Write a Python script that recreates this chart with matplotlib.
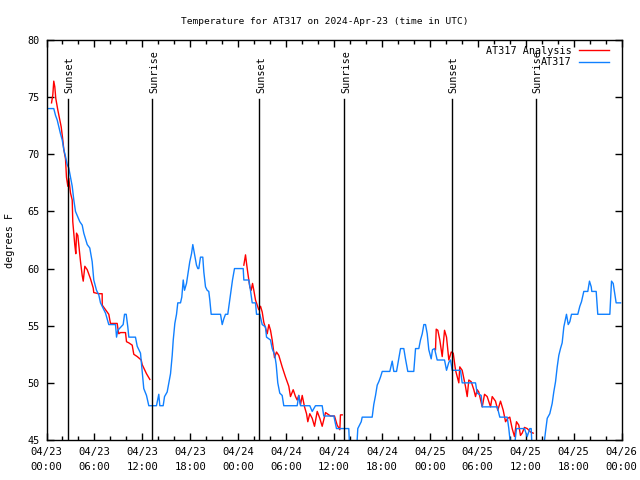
import numpy as np
import matplotlib
matplotlib.use("Agg")
import matplotlib.pyplot as plt

plt.rcParams['font.family'] = ['DejaVu Sans Mono']

# hours since 2024-04-23 00:00 UTC
obs_hours = [0, 0.91, 1.13, 1.34, 1.54, 1.75, 1.97, 2.17, 2.38, 2.59, 2.79, 3.01, 3.22, 3.42, 3.63,
             4.17, 4.47, 4.67, 5.10, 5.42, 5.72, 5.92, 6.26, 6.55, 6.76, 7.18, 7.39, 7.80, 8.64, 8.77,
             8.93, 9.60, 9.77, 9.98, 10.18, 10.31, 11.14, 11.36, 11.77, 11.98, 12.18, 12.52, 12.81,
             13.77, 14.06, 14.19, 14.61, 14.78, 15.11, 15.53, 15.74, 15.87, 16.07, 16.28, 16.44, 16.78,
             16.94, 17.12, 17.28, 17.53, 17.74, 17.94, 18.16, 18.32, 18.53, 18.78, 18.95, 19.07, 19.28,
             19.57, 19.70, 19.91, 20.12, 20.32, 20.45, 20.62, 21.79, 22.00, 22.20, 22.41, 22.70, 22.95,
             23.13, 23.29, 23.54, 24.63, 24.71, 25.33, 25.54, 25.76, 26.17, 26.30, 26.71, 27.01, 27.42,
             27.55, 28.05, 28.26, 28.59, 28.76, 28.96, 29.21, 29.51, 29.71, 31.39, 31.59, 31.81, 32.97,
             33.27, 33.68, 34.52, 34.72, 35.98, 36.31, 37.85, 37.98, 38.82, 38.98, 39.41, 39.53, 40.78,
             40.98, 41.20, 41.41, 41.61, 41.82, 42.04, 42.99, 43.29, 43.49, 43.83, 44.11, 44.33, 44.74,
             44.95, 45.24, 45.99, 46.21, 46.62, 46.83, 47.05, 47.25, 47.46, 47.67, 47.87, 48.17, 48.33,
             48.59, 48.92, 49.84, 50.09, 50.38, 50.59, 50.80, 51.84, 52.05, 53.72, 53.93, 54.43, 54.56,
             56.44, 56.76, 57.69, 57.89, 58.19, 58.52, 58.85, 59.85, 60.19, 60.52, 60.69, 60.82, 62.19,
             62.48, 62.70, 63.02, 63.32, 63.52, 63.74, 63.95, 64.15, 64.36, 64.57, 64.78, 64.99, 65.11,
             65.33, 65.53, 65.74, 66.53, 66.78, 66.99, 67.28, 67.78, 67.99, 68.21, 68.28, 68.83, 69.03,
             70.54, 70.75, 70.96, 71.16, 71.33, 71.88]
obs_temps = [74.0, 74.0, 73.4, 73.0, 72.4, 71.8, 71.25, 70.4, 69.8, 69.1, 68.8, 68.0, 67.2, 66.0, 65.0,
             64.1, 63.8, 63.1, 62.1, 61.8, 60.6, 59.0, 58.1, 57.7, 57.0, 56.4, 56.1, 55.1, 55.1, 54.0,
             54.6, 55.1, 56.0, 56.0, 54.9, 54.0, 54.0, 53.2, 52.6, 51.0, 49.5, 48.9, 48.0,
             48.0, 49.0, 48.0, 48.0, 48.8, 49.2, 50.8, 52.4, 53.75, 55.2, 56.0, 57.0, 57.0,
             57.5, 59.0, 58.1, 58.7, 59.7, 60.6, 61.3, 62.1, 61.3, 60.3, 60.0, 60.0, 61.0,
             61.0, 59.7, 58.4, 58.1, 58.0, 57.25, 56.0, 56.0, 55.1, 55.6, 56.0, 56.0, 57.25,
             58.1, 59.0, 60.0, 60.0, 59.0, 59.0, 58.1, 57.0, 57.0, 56.0, 56.0, 55.1, 54.9,
             54.0, 53.75, 53.0, 52.4, 51.6, 50.0, 49.1, 48.9, 48.0, 48.0, 48.9, 48.0, 48.0,
             47.5, 48.0, 48.0, 47.1, 47.1, 46.0, 46.0, 44.0, 44.0, 46.0, 46.6, 47.0, 47.0,
             48.1, 48.9, 49.8, 50.1, 50.5, 51.0, 51.0, 51.9, 51.0, 51.0, 52.1, 53.0, 53.0,
             52.1, 51.0, 51.0, 53.0, 53.0, 53.75, 54.3, 55.1, 55.1, 54.3, 52.9, 52.1, 52.9,
             53.0, 52.0, 52.0, 51.1, 51.8, 52.0, 51.1, 51.1, 50.0, 50.0, 49.1, 48.9, 47.9,
             47.9, 47.0, 47.0, 46.0, 44.0, 44.0, 46.0, 46.0, 45.3, 46.0, 46.0, 44.0, 44.0,
             45.7, 46.9, 47.3, 48.2, 49.2, 50.1, 51.4, 52.4, 53.0, 53.5, 54.9, 55.6, 56.0,
             55.1, 55.35, 56.0, 56.0, 56.7, 57.1, 58.0, 58.0, 58.9, 58.4, 58.0, 58.0, 56.0,
             56.0, 58.9, 58.7, 57.8, 57.0, 57.0]

# analysis, nan marks the gaps between nights
ana_hours = [0.63, 0.79, 0.91, 1.04, 1.16, 1.41, 1.67, 1.84, 2.00, 2.17, 2.38, 2.50, 2.67, 2.79, 3.01,
             3.22, 3.29, 3.42, 3.54, 3.67, 3.76, 3.92, 4.04, 4.26, 4.47, 4.60, 4.80, 5.10, 5.51, 5.85,
             5.92, 6.55, 6.97, 6.98, 7.39, 7.80, 8.01, 8.85, 8.93, 9.05, 9.27, 9.89, 10.02, 10.31, 10.73,
             10.93, 11.36, 11.86, 11.98, 12.52, 12.94,
             np.nan,
             24.71, 24.92, 25.04, 25.21, 25.46, 25.63, 25.80, 25.96, 26.17, 26.58, 26.80, 27.01, 27.21,
             27.64, 27.84, 28.05, 28.26, 28.55, 28.80, 29.09, 29.51, 29.93, 30.34, 30.55, 30.89, 31.18,
             31.39, 31.59, 31.81, 32.02, 32.31, 32.56, 32.72, 32.97, 33.27, 33.56, 33.90, 34.22, 34.52,
             34.94, 35.56, 36.06, 36.40, 36.73, 36.81, 37.03,
             np.nan,
             48.71, 48.80, 49.00, 49.25, 49.55, 49.84, 50.09, 50.38, 50.68, 50.93, 51.22, 51.63, 51.75,
             52.05, 52.46, 52.68, 52.88, 53.18, 53.51, 53.72, 53.93, 54.13, 54.56, 54.85, 55.18, 55.60,
             55.81, 56.22, 56.51, 56.85, 57.19, 57.48, 57.76, 58.01, 58.31, 58.60, 58.85, 59.14, 59.35,
             59.56, 59.85, 60.19, 60.61, 60.94]
ana_temps = [74.5, 75.2, 76.4, 75.9, 74.9, 73.9, 73.0, 72.4, 71.5, 70.4, 69.6, 68.0, 67.2, 67.9, 66.6,
             66.0, 64.1, 63.1, 62.1, 61.3, 63.1, 62.9, 62.1, 60.6, 59.4, 58.9, 60.2, 59.9, 59.1, 58.3,
             57.9, 57.8, 57.8, 56.8, 56.4, 56.0, 55.2, 55.2, 54.8, 54.3, 54.4, 54.4, 53.6, 53.5, 53.3,
             52.5, 52.3, 52.0, 51.6, 50.8, 50.3,
             np.nan,
             60.3, 61.2, 60.5, 59.6, 58.4, 58.1, 58.7, 58.1, 57.25, 56.4, 56.7, 56.2, 55.3,
             54.3, 55.1, 54.6, 53.75, 52.2, 52.7, 52.4, 51.4, 50.5, 49.7, 48.8, 49.4, 48.8,
             48.5, 48.9, 48.1, 48.9, 47.9, 47.3, 46.6, 47.3, 46.9, 46.2, 47.5, 46.9, 46.2,
             47.4, 47.1, 47.1, 46.3, 45.9, 47.2, 47.2,
             np.nan,
             52.9, 54.7, 54.6, 53.75, 52.3, 54.6, 54.0, 52.0, 52.7, 52.6, 51.1, 50.0, 51.4,
             51.1, 49.7, 48.8, 50.25, 50.1, 49.4, 48.8, 49.4, 49.2, 47.9, 49.0, 48.8, 47.9,
             48.8, 48.4, 47.6, 48.4, 47.6, 46.6, 46.9, 47.0, 46.0, 45.3, 46.6, 46.3, 45.4,
             45.6, 46.1, 46.0, 45.7, 45.6]

sun_hours = [2.65, 13.27, 26.67, 37.3, 50.72, 61.3]
sun_labels = ['Sunset', 'Sunrise', 'Sunset', 'Sunrise', 'Sunset', 'Sunrise']

tick_hours = [0, 6, 12, 18, 24, 30, 36, 42, 48, 54, 60, 66, 72]
tick_labels = ['04/23\n00:00', '04/23\n06:00', '04/23\n12:00', '04/23\n18:00',
               '04/24\n00:00', '04/24\n06:00', '04/24\n12:00', '04/24\n18:00',
               '04/25\n00:00', '04/25\n06:00', '04/25\n12:00', '04/25\n18:00',
               '04/26\n00:00']

fig = plt.figure(figsize=(6.4, 4.8), dpi=100)
ax = fig.add_axes([46.5 / 640, 40 / 480, 575 / 640, 400 / 480])

ax.plot(ana_hours, ana_temps, color='#ff0000', lw=1.0, label='AT317 Analysis')
ax.plot(obs_hours, obs_temps, color='#1080ff', lw=1.0, label='AT317')

# sunrise / sunset markers
for h, lab in zip(sun_hours, sun_labels):
    ax.plot([h, h], [0, 0.8525], color='black', lw=1.0, transform=ax.get_xaxis_transform())
    ax.text(h + 0.2, 0.8675, lab, rotation=90, ha='center', va='bottom', fontsize=7.3,
            transform=ax.get_xaxis_transform())

ax.set_xlim(0, 72)
ax.set_ylim(45, 80)
ax.set_xticks(tick_hours)
ax.set_xticklabels(tick_labels, fontsize=7.6, linespacing=1.6)
ax.set_xticks(np.arange(0, 73, 2), minor=True)
ax.set_yticks(np.arange(45, 81, 5))
ax.tick_params(axis='y', labelsize=7.3)
ax.tick_params(which='both', direction='in', top=True, right=True, width=1)
ax.tick_params(which='major', length=5, pad=5)
ax.tick_params(which='minor', length=3)
for s in ax.spines.values():
    s.set_linewidth(1)

ax.set_ylabel('degrees F', fontsize=7.3, labelpad=9)
fig.text(325 / 640, 459 / 480, 'Temperature for AT317 on 2024-Apr-23 (time in UTC)',
         ha='center', va='center', fontsize=6.8)

ax.legend(loc='upper right', bbox_to_anchor=(0.993, 1.006), frameon=False, markerfirst=False,
          fontsize=7.3, handlelength=3.0, handletextpad=0.75, labelspacing=0.15, borderpad=0.3)

fig.savefig('out.png', dpi=100)
